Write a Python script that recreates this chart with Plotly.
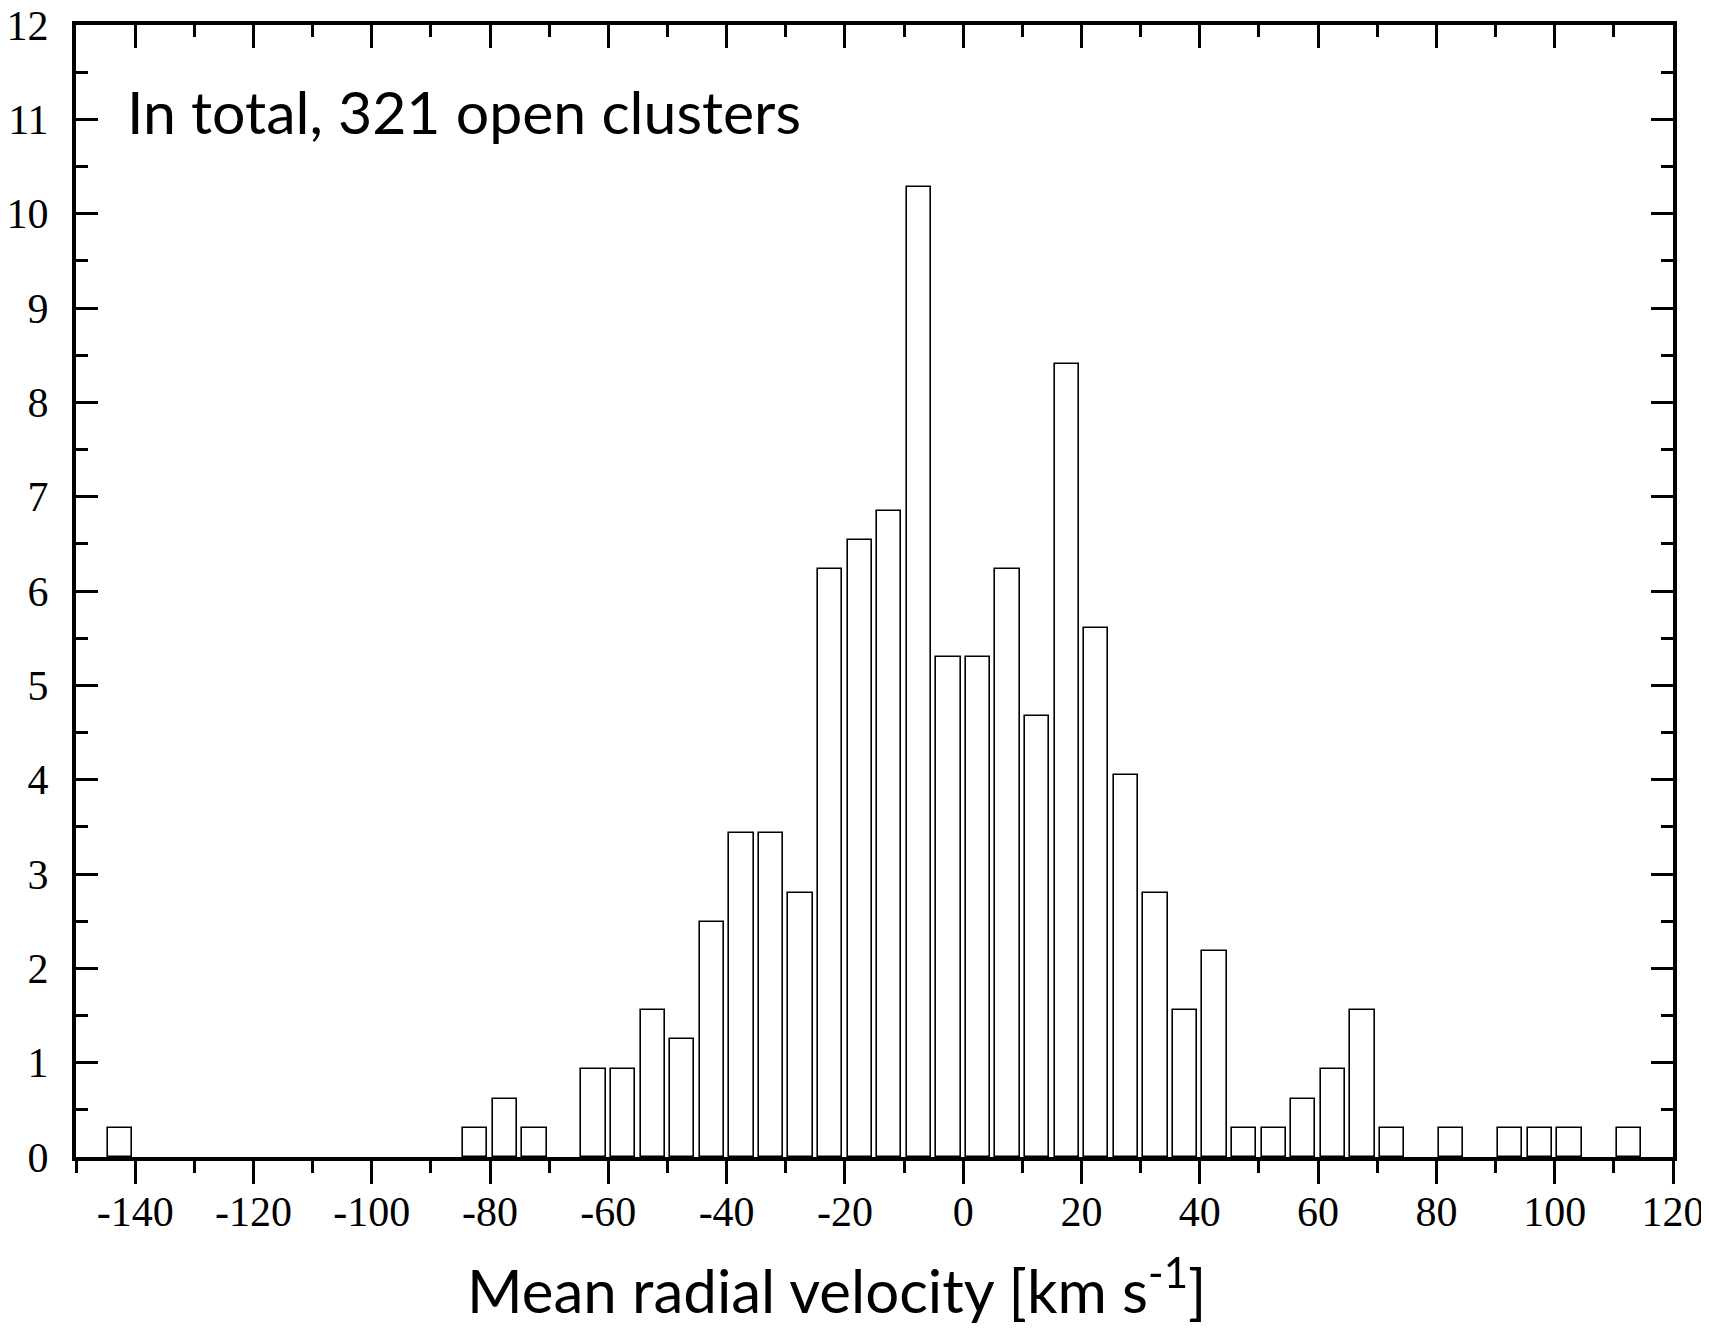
import plotly.graph_objects as go

# bin centres (5 km/s bins) and percentage of clusters per bin
velocity = [-142.5, -82.5, -77.5, -72.5, -62.5, -57.5, -52.5, -47.5, -42.5, -37.5,
            -32.5, -27.5, -22.5, -17.5, -12.5, -7.5, -2.5, 2.5, 7.5, 12.5,
            17.5, 22.5, 27.5, 32.5, 37.5, 42.5, 47.5, 52.5, 57.5, 62.5,
            67.5, 72.5, 82.5, 92.5, 97.5, 102.5, 112.5]
percent = [0.31, 0.31, 0.62, 0.31, 0.93, 0.93, 1.56, 1.25, 2.49, 3.43,
           3.43, 2.80, 6.23, 6.54, 6.85, 10.28, 5.30, 5.30, 6.23, 4.67,
           8.41, 5.61, 4.05, 2.80, 1.56, 2.18, 0.31, 0.31, 0.62, 0.93,
           1.56, 0.31, 0.31, 0.31, 0.31, 0.31, 0.31]

x_ticks = [-140, -120, -100, -80, -60, -40, -20, 0, 20, 40, 60, 80, 100, 120]
x_labels = ["-140", "-120", "-100", "-80", "-60", "-40", "-20",
            "0", "20", "40", "60", "80", "100", "120"]
y_ticks = list(range(0, 13))

tick_font = dict(family="Liberation Serif", size=42, color="black")

fig = go.Figure()
fig.add_bar(x=velocity, y=percent, width=4.1,
            marker=dict(color="white", line=dict(color="black", width=1.6)),
            showlegend=False)

# invisible trace so the top (mirrored, inward-ticked) axis gets drawn
fig.add_scatter(x=velocity, y=percent, xaxis="x2", mode="markers",
                opacity=0, hoverinfo="skip", showlegend=False)

# page body has an 8px margin, so the figure is a bit smaller than the window
fig.update_layout(
    width=1701, height=1332,
    paper_bgcolor="white", plot_bgcolor="white",
    margin=dict(l=68, r=36, t=17, b=183),
    bargap=0,
    xaxis=dict(range=[-150, 120], tickvals=x_ticks, ticktext=x_labels,
               ticks="outside", ticklen=23, tickwidth=3, tickcolor="black",
               minor=dict(dtick=10, tick0=-150, ticks="outside", ticklen=12,
                          tickwidth=3, tickcolor="black"),
               showline=True, linewidth=4, linecolor="black",
               showgrid=False, zeroline=False, tickfont=tick_font,
               ticklabelstandoff=-8, automargin=False,
               ticklabeloverflow="allow"),
    xaxis2=dict(range=[-150, 120], overlaying="x", side="top", matches="x",
                tickvals=x_ticks, ticks="inside", ticklen=23, tickwidth=3,
                tickcolor="black",
                minor=dict(dtick=10, tick0=-150, ticks="inside", ticklen=12,
                           tickwidth=3, tickcolor="black"),
                showticklabels=False, showline=True, linewidth=4,
                linecolor="black", showgrid=False, zeroline=False,
                automargin=False),
    yaxis=dict(range=[0, 12], tickvals=y_ticks, ticks="inside",
               ticklen=22, tickwidth=3, tickcolor="black",
               minor=dict(dtick=0.5, ticks="inside", ticklen=12,
                          tickwidth=3, tickcolor="black"),
               showline=True, linewidth=4, linecolor="black", mirror="ticks",
               showgrid=False, zeroline=False, tickfont=tick_font,
               ticklabelstandoff=15, automargin=False,
               ticklabeloverflow="allow"),
)

fig.add_annotation(text="In total, 321 open clusters", xref="paper", yref="paper",
                   x=0.0307, y=0.957, xanchor="left", yanchor="top",
                   showarrow=False, font=dict(family="Lato", size=59, color="black"))

fig.add_annotation(text="Mean radial velocity [km s<sup>-1</sup>]",
                   xref="paper", yref="paper", x=0.4765, y=-0.151,
                   xanchor="center", yanchor="bottom", showarrow=False,
                   font=dict(family="Lato", size=60, color="black"))

fig.write_html("out.html")
